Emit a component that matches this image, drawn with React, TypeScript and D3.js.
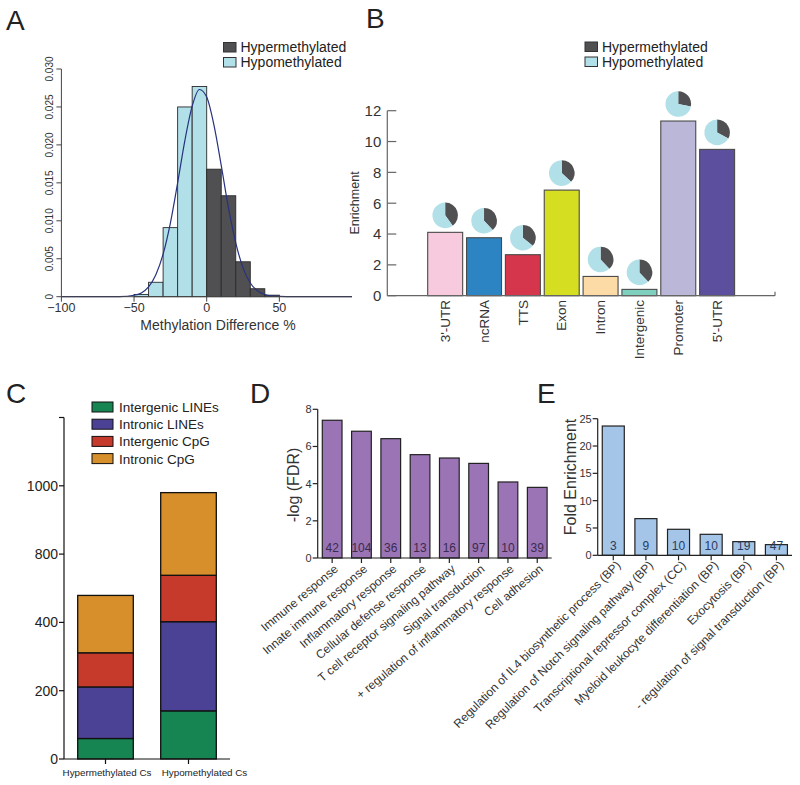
import React from "react";
import * as d3 from "d3";

const FONT = "'Liberation Sans', Arial, Helvetica, sans-serif";

// ---------- Panel A data ----------
const HIST_BIN_START = [-50, -40, -30, -20, -10, 0, 10, 20, 30, 40];
const HIST_BIN_END = [-40, -30, -20, -10, 0, 10, 20, 30, 40, 50];
const HIST_DENSITY = [0.0003, 0.0019, 0.0091, 0.025, 0.0277, 0.0168, 0.0133, 0.0046, 0.00105, 0.0002];
const HIST_CLASS = ["hypo", "hypo", "hypo", "hypo", "hypo", "hyper", "hyper", "hyper", "hyper", "hyper"];
const CURVE_X = [-100, -70, -60, -50, -45, -40, -35, -30, -25, -20, -15, -10, -5, 0, 5, 10, 15, 20, 25, 30, 35, 40, 45, 50, 60, 100];
const CURVE_Y = [0, 0, 0.00002, 0.00019, 0.0005, 0.0013, 0.0029, 0.0056, 0.0097, 0.015, 0.0206, 0.0251, 0.0273, 0.0263, 0.0226, 0.0173, 0.0117, 0.0071, 0.0038, 0.0018, 0.00077, 0.00029, 0.0001, 0.00003, 0, 0];
const A_XTICKS = [-100, -50, 0, 50];
const A_YTICKS = [0, 0.005, 0.01, 0.015, 0.02, 0.025, 0.03];
const A_YTICK_LABELS = ["0", "0.005", "0.010", "0.015", "0.020", "0.025", "0.030"];
const LEGEND_METH = ["Hypermethylated", "Hypomethylated"];

// ---------- Panel B data ----------
const B_CATEGORIES = ["3'-UTR", "ncRNA", "TTS", "Exon", "Intron", "Intergenic", "Promoter", "5'-UTR"];
const B_ENRICHMENT = [4.11, 3.76, 2.66, 6.85, 1.25, 0.41, 11.33, 9.49];
const B_HYPER_FRACTION = [0.4, 0.38, 0.36, 0.37, 0.38, 0.38, 0.28, 0.33];
const B_COLORS = ["#f8cade", "#2d84c3", "#d6364b", "#d5de21", "#fddba6", "#80d0bf", "#bab7d9", "#5c4f9e"];
const B_YTICKS = [0, 2, 4, 6, 8, 10, 12];

// ---------- Panel C data ----------
const C_GROUPS = ["Hypermethylated Cs", "Hypomethylated Cs"];
const C_KEYS = ["Intergenic LINEs", "Intronic LINEs", "Intergenic CpG", "Intronic CpG"];
const C_INTERGENIC_LINES = [60, 141];
const C_INTRONIC_LINES = [151, 261];
const C_INTERGENIC_CPG = [100, 136];
const C_INTRONIC_CPG = [168, 242];
const C_COLORS = ["#168552", "#4c4295", "#c63a2b", "#d78f2b"];
const C_YTICKS = [0, 200, 400, 600, 800, 1000];
const C_YTICK_LABELS = ["0", "200", "400", "800", "1000", ""];

// ---------- Panel D data ----------
const D_TERMS = ["Immune response", "Innate immune response", "Inflammatory response", "Cellular defense response", "T cell receptor signaling pathway", "Signal transduction", "+ regulation of inflammatory response", "Cell adhesion"];
const D_LOGFDR = [7.41, 6.82, 6.42, 5.56, 5.38, 5.09, 4.09, 3.8];
const D_COUNTS = [42, 104, 36, 13, 16, 97, 10, 39];
const D_YTICKS = [0, 2, 4, 6, 8];

// ---------- Panel E data ----------
const E_TERMS = ["Regulation of IL4 biosynthetic process (BP)", "Regulation of Notch signaling pathway (BP)", "Transcriptional repressor complex (CC)", "Myeloid leukocyte differentiation (BP)", "Exocytosis (BP)", "- regulation of signal transduction (BP)"];
const E_FOLD = [23.66, 6.71, 4.76, 3.84, 2.5, 1.95];
const E_COUNTS = [3, 9, 10, 10, 19, 47];
const E_YTICKS = [0, 5, 10, 15, 20, 25];

const HYPER_COLOR = "#505052";
const HYPO_COLOR = "#b1e0e9";

function PanelLetter({ x, y, t }: { x: number; y: number; t: string }) {
  return (
    <text x={x} y={y} fontSize={28} fontFamily={FONT} fill="#222">
      {t}
    </text>
  );
}

function MethLegend({ x, y }: { x: number; y: number }) {
  return (
    <g>
      {LEGEND_METH.map((lab, i) => (
        <g key={lab} transform={`translate(${x},${y + i * 15})`}>
          <rect x={0} y={0} width={12.5} height={9.5} fill={i === 0 ? HYPER_COLOR : HYPO_COLOR} stroke="#333" strokeWidth={1} />
          <text x={17} y={9.5} fontSize={14} fontFamily={FONT} fill="#222">
            {lab}
          </text>
        </g>
      ))}
    </g>
  );
}

function PanelA() {
  const x = d3.scaleLinear().domain([-100, 100]).range([61.4, 352]);
  const y = d3.scaleLinear().domain([0, 0.03]).range([296.7, 69]);
  const line = d3
    .line<number>()
    .x((_, i) => x(CURVE_X[i]))
    .y((d) => y(d))
    .curve(d3.curveMonotoneX);
  const axisColor = "#444";
  return (
    <g>
      <PanelLetter x={6} y={30} t="A" />
      <MethLegend x={223.5} y={42.5} />
      {HIST_DENSITY.map((d, i) => (
        <rect
          key={i}
          x={x(HIST_BIN_START[i])}
          y={y(d)}
          width={x(HIST_BIN_END[i]) - x(HIST_BIN_START[i])}
          height={y(0) - y(d)}
          fill={HIST_CLASS[i] === "hyper" ? HYPER_COLOR : HYPO_COLOR}
          stroke="#2a2a2a"
          strokeWidth={0.9}
        />
      ))}
      <path d={line(CURVE_Y) || ""} fill="none" stroke="#27317e" strokeWidth={1.2} />
      <line x1={x(-100)} x2={x(-100)} y1={y(0)} y2={y(0.03)} stroke={axisColor} strokeWidth={1} />
      {A_YTICKS.map((t, i) => (
        <g key={t}>
          <line x1={x(-100) - 5} x2={x(-100)} y1={y(t)} y2={y(t)} stroke={axisColor} />
          <text
            transform={`translate(${x(-100) - 8},${y(t)}) rotate(-90)`}
            textAnchor="middle"
            fontSize={10}
            fontFamily={FONT}
            fill="#333"
          >
            {A_YTICK_LABELS[i]}
          </text>
        </g>
      ))}
      <line x1={x(-100)} x2={x(100)} y1={y(0)} y2={y(0)} stroke={axisColor} strokeWidth={1} />
      {A_XTICKS.map((t) => (
        <g key={t}>
          <line x1={x(t)} x2={x(t)} y1={y(0)} y2={y(0) + 5} stroke={axisColor} />
          <text x={x(t)} y={y(0) + 15} textAnchor="middle" fontSize={12.5} fontFamily={FONT} fill="#333">
            {t < 0 ? "\u2212" + Math.abs(t) : String(t)}
          </text>
        </g>
      ))}
      <text x={218} y={330} textAnchor="middle" fontSize={14} fontFamily={FONT} fill="#333">
        Methylation Difference %
      </text>
    </g>
  );
}

function PanelB() {
  const x = d3.scaleBand<string>().domain(B_CATEGORIES).range([387.3, 775]).paddingInner(0.1).paddingOuter(1.04);
  const y = d3.scaleLinear().domain([0, 12]).range([295.7, 110.7]);
  const pie = d3.pie<number>().sort(null).value((d) => d);
  const arc = d3.arc<d3.PieArcDatum<number>>().innerRadius(0).outerRadius(12.8);
  const axisColor = "#666";
  const x0 = 387.3;
  return (
    <g>
      <PanelLetter x={366} y={28} t="B" />
      <MethLegend x={585} y={42} />
      <text
        transform={`translate(359,203) rotate(-90)`}
        textAnchor="middle"
        fontSize={12.5}
        fontFamily={FONT}
        fill="#333"
      >
        Enrichment
      </text>
      {B_CATEGORIES.map((c, i) => {
        const bx = x(c) as number;
        const cx = bx + x.bandwidth() / 2;
        const top = y(B_ENRICHMENT[i]);
        const arcs = pie([B_HYPER_FRACTION[i], 1 - B_HYPER_FRACTION[i]]);
        return (
          <g key={c}>
            <rect x={bx} y={top} width={x.bandwidth()} height={y(0) - top} fill={B_COLORS[i]} stroke="#4a4a4a" strokeWidth={1.1} />
            <g transform={`translate(${cx},${top - 17})`}>
              {arcs.map((a, j) => (
                <path key={j} d={arc(a) || ""} fill={j === 0 ? HYPER_COLOR : HYPO_COLOR} />
              ))}
            </g>
            <text
              transform={`translate(${cx},${300}) rotate(-90)`}
              textAnchor="end"
              dy="0.35em"
              fontSize={13.5}
              fontFamily={FONT}
              fill="#333"
            >
              {c}
            </text>
          </g>
        );
      })}
      <line x1={x0} x2={x0} y1={y(0)} y2={y(12)} stroke={axisColor} strokeWidth={1.2} />
      {B_YTICKS.map((t) => (
        <g key={t}>
          <line x1={x0} x2={x0 + 9} y1={y(t)} y2={y(t)} stroke={axisColor} strokeWidth={1.2} />
          <text x={x0 - 6} y={y(t)} dy="0.36em" textAnchor="end" fontSize={15} fontFamily={FONT} fill="#333">
            {t}
          </text>
        </g>
      ))}
      <line x1={x0} x2={775} y1={y(0)} y2={y(0)} stroke={axisColor} strokeWidth={1.2} />
      <line x1={775} x2={775} y1={y(0)} y2={y(0) - 4} stroke={axisColor} strokeWidth={1.2} />
    </g>
  );
}

const C_LABEL_SHIFT = [1.5, 16];

function PanelC() {
  const x = d3.scaleBand<string>().domain(C_GROUPS).range([64, 230]).paddingInner(0.33).paddingOuter(0.165);
  const y = d3.scaleLinear().domain([0, 1000]).range([759, 417.5]);
  const rows = C_GROUPS.map((g, i) => ({
    group: g,
    [C_KEYS[0]]: C_INTERGENIC_LINES[i],
    [C_KEYS[1]]: C_INTRONIC_LINES[i],
    [C_KEYS[2]]: C_INTERGENIC_CPG[i],
    [C_KEYS[3]]: C_INTRONIC_CPG[i],
  }));
  const series = d3.stack<any>().keys(C_KEYS)(rows);
  const x0 = 64;
  return (
    <g>
      <PanelLetter x={6} y={403} t="C" />
      {C_KEYS.map((k, i) => (
        <g key={k} transform={`translate(92,${402 + i * 17.2})`}>
          <rect x={0} y={0} width={21} height={10} fill={C_COLORS[i]} stroke="#111" strokeWidth={1} />
          <text x={27} y={10} fontSize={13.5} fontFamily={FONT} fill="#222">
            {k}
          </text>
        </g>
      ))}
      {series.map((s, si) =>
        s.map((d, j) => (
          <rect
            key={si + "-" + j}
            x={x(C_GROUPS[j])}
            y={y(d[1])}
            width={x.bandwidth()}
            height={y(d[0]) - y(d[1])}
            fill={C_COLORS[si]}
            stroke="#111"
            strokeWidth={1.3}
          />
        ))
      )}
      <line x1={x0} x2={x0} y1={y(0)} y2={y(1000)} stroke="#111" strokeWidth={1.2} />
      {C_YTICKS.map((t, i) => (
        <g key={t}>
          <line x1={x0 - 5} x2={x0} y1={y(t)} y2={y(t)} stroke="#111" strokeWidth={1.2} />
          <text x={x0 - 6} y={y(t)} dy="0.36em" textAnchor="end" fontSize={14} fontFamily={FONT} fill="#222">
            {C_YTICK_LABELS[i]}
          </text>
        </g>
      ))}
      <line x1={x0} x2={230} y1={y(0)} y2={y(0)} stroke="#111" strokeWidth={1.2} />
      {C_GROUPS.map((g, i) => {
        const cx = (x(g) as number) + x.bandwidth() / 2;
        return (
          <g key={g}>
            <line x1={cx} x2={cx} y1={y(0)} y2={y(0) + 5} stroke="#111" strokeWidth={1.2} />
            <text x={cx + C_LABEL_SHIFT[i]} y={776} textAnchor="middle" fontSize={9.8} fontFamily={FONT} fill="#222">
              {g}
            </text>
          </g>
        );
      })}
    </g>
  );
}

function GoPanel({
  terms,
  values,
  counts,
  ticks,
  yMax,
  x0,
  x1,
  yBottom,
  yTop,
  pInner,
  pOuter,
  fill,
  yLabel,
  yLabelX,
  yLabelY,
  labelAngle,
  labelDx,
  labelY,
  countColor,
}: any) {
  const x = d3.scaleBand<string>().domain(terms).range([x0, x1]).paddingInner(pInner).paddingOuter(pOuter);
  const y = d3.scaleLinear().domain([0, yMax]).range([yBottom, yTop]);
  return (
    <g>
      <text
        transform={`translate(${yLabelX},${yLabelY}) rotate(-90)`}
        textAnchor="middle"
        fontSize={16}
        fontFamily={FONT}
        fill="#333"
      >
        {yLabel}
      </text>
      {terms.map((t: string, i: number) => {
        const bx = x(t) as number;
        const cx = bx + x.bandwidth() / 2;
        return (
          <g key={t}>
            <rect x={bx} y={y(values[i])} width={x.bandwidth()} height={y(0) - y(values[i])} fill={fill} stroke="#222" strokeWidth={1.2} />
            <text x={cx} y={y(0) - 10} dy="0.36em" textAnchor="middle" fontSize={12} fontFamily={FONT} fill={countColor}>
              {counts[i]}
            </text>
            <line x1={cx} x2={cx} y1={y(0)} y2={y(0) + 5} stroke="#222" strokeWidth={1.2} />
            <text
              transform={`translate(${cx + labelDx},${labelY}) rotate(${labelAngle})`}
              textAnchor="end"
              dy="0.35em"
              fontSize={12}
              fontFamily={FONT}
              fill="#333"
            >
              {t}
            </text>
          </g>
        );
      })}
      <line x1={x0} x2={x0} y1={y(0)} y2={y(yMax)} stroke="#222" strokeWidth={1.2} />
      {ticks.map((t: number) => (
        <g key={t}>
          <line x1={x0 - 5} x2={x0} y1={y(t)} y2={y(t)} stroke="#222" strokeWidth={1.2} />
          <text x={x0 - 6} y={y(t)} dy="0.36em" textAnchor="end" fontSize={11} fontFamily={FONT} fill="#333">
            {t}
          </text>
        </g>
      ))}
      <line x1={x0} x2={x1} y1={y(0)} y2={y(0)} stroke="#222" strokeWidth={1.2} />
    </g>
  );
}

export default function App() {
  return (
    <svg
      width={800}
      height={785}
      viewBox="0 0 800 785"
      style={{ position: "absolute", left: 0, top: 0, background: "#fff" }}
    >
      <rect x={0} y={0} width={800} height={785} fill="#fff" />
      <PanelA />
      <PanelB />
      <PanelC />
      <PanelLetter x={250} y={403} t="D" />
      <GoPanel
        terms={D_TERMS}
        values={D_LOGFDR}
        counts={D_COUNTS}
        ticks={D_YTICKS}
        yMax={8}
        x0={317.7}
        x1={551.7}
        yBottom={558}
        yTop={409.3}
        pInner={0.327}
        pOuter={0.157}
        fill="#9b74b6"
        yLabel="-log (FDR)"
        yLabelX={299}
        yLabelY={485}
        labelAngle={-40}
        labelDx={4}
        labelY={567}
        countColor="#3a2b4c"
      />
      <PanelLetter x={537} y={403} t="E" />
      <GoPanel
        terms={E_TERMS}
        values={E_FOLD}
        counts={E_COUNTS}
        ticks={E_YTICKS}
        yMax={25}
        x0={597.7}
        x1={792}
        yBottom={555.3}
        yTop={418.7}
        pInner={0.325}
        pOuter={0.14}
        fill="#a4c5e8"
        yLabel="Fold Enrichment"
        yLabelX={576}
        yLabelY={477}
        labelAngle={-45}
        labelDx={5}
        labelY={563}
        countColor="#2b3b5b"
      />
    </svg>
  );
}
